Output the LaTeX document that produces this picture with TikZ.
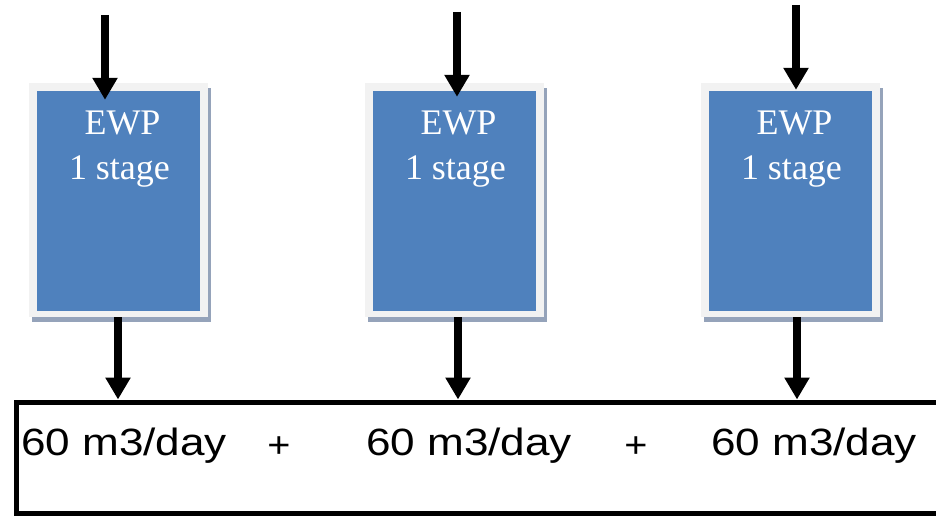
\documentclass[tikz,border=0pt]{standalone}
\usepackage{fontspec}
\setmainfont{Liberation Serif}
\newfontfamily\arialf{Liberation Sans}
\usetikzlibrary{arrows.meta,shadows}
\definecolor{ewpblue}{HTML}{4F81BD}
\definecolor{ewpframe}{HTML}{F2F2F2}
\definecolor{ewpshadow}{HTML}{95A3BA}
\begin{document}
\begin{tikzpicture}[x=1pt,y=-1pt,
  ewpbox/.style={minimum width=179pt,minimum height=234pt,inner sep=0pt,fill=ewpframe,
    drop shadow={shadow xshift=3pt,shadow yshift=-5pt,fill=ewpshadow,opacity=1},
    path picture={\fill[ewpblue] ([shift={(8pt,-8pt)}]path picture bounding box.north west)
      rectangle ([shift={(-8pt,6pt)}]path picture bounding box.south east);}},
  ewptext/.style={anchor=north,inner sep=0pt,text=white,align=center,
    font=\fontsize{36}{45}\selectfont},
  flow/.style={line width=8pt,-{Triangle[width=24pt,length=22pt]}},
  totalbox/.style={draw,line width=5pt,minimum width=944pt,minimum height=111pt,inner sep=0pt},
  ratetext/.style={anchor=base west,inner sep=0pt,font=\arialf\fontsize{38}{38}\selectfont},
  plustext/.style={anchor=base,inner sep=0pt,font=\arialf\fontsize{36}{36}\selectfont}]
\useasboundingbox (0,0) rectangle (936,516);

% collecting box
\node[totalbox] (total) at (488,457.5) {};

% stage boxes
\node[ewpbox] (b1) at (118.5,200) {};
\node[ewpbox] (b2) at (454.5,200) {};
\node[ewpbox] (b3) at (790.5,200) {};

\node[ewptext] (t1) at ([xshift=1pt,yshift=-28pt]b1.north) {\hspace*{6pt}EWP\\1 stage};
\node[ewptext] (t2) at ([xshift=1pt,yshift=-28pt]b2.north) {\hspace*{6pt}EWP\\1 stage};
\node[ewptext] (t3) at ([xshift=1pt,yshift=-28pt]b3.north) {\hspace*{6pt}EWP\\1 stage};

% inlet points
\coordinate (in1) at (105,15);
\coordinate (in2) at (457,12);
\coordinate (in3) at (796,5);

\draw[flow] (in1) -- ([yshift=-17pt]b1.north -| in1);
\draw[flow] (in2) -- ([yshift=-14pt]b2.north -| in2);
\draw[flow] (in3) -- ([yshift=-7pt]b3.north -| in3);

% outlets
\draw[flow] ([xshift=-0.5pt]b1.south) -- ([xshift=-0.5pt]b1.south |- total.north);
\draw[flow] ([xshift=3.5pt]b2.south) -- ([xshift=3.5pt]b2.south |- total.north);
\draw[flow] ([xshift=6.5pt]b3.south) -- ([xshift=6.5pt]b3.south |- total.north);

% rates
\node[ratetext] (r1) at (21,455) {\scalebox{1.16}[1]{60 m3/day}};
\node[ratetext] (r2) at (366,455) {\scalebox{1.16}[1]{60 m3/day}};
\node[ratetext] (r3) at (711,455) {\scalebox{1.16}[1]{60 m3/day}};
\node[plustext] (p1) at (279,457) {\scalebox{1.1}[1]{+}};
\node[plustext] (p2) at (636,457) {\scalebox{1.1}[1]{+}};
\end{tikzpicture}
\end{document}
